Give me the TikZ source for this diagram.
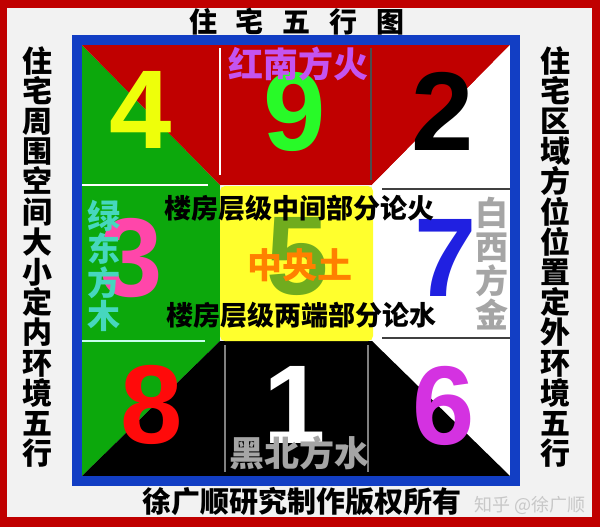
\documentclass[tikz,border=0pt]{standalone}
\usepackage{fontspec}
\setmainfont{Liberation Sans}
\newfontfamily\cjk{Noto Sans CJK SC}

\definecolor{fireRed}{RGB}{192,0,0}
\definecolor{woodGreen}{RGB}{12,168,12}
\definecolor{earthYellow}{RGB}{255,255,45}
\definecolor{frameBlue}{RGB}{18,62,196}
\definecolor{paper}{RGB}{242,242,242}
\definecolor{numYellow}{RGB}{238,255,10}
\definecolor{numLime}{RGB}{40,250,40}
\definecolor{numPink}{RGB}{255,70,170}
\definecolor{numOlive}{RGB}{112,172,30}
\definecolor{numBlue}{RGB}{32,32,225}
\definecolor{numRed}{RGB}{255,10,10}
\definecolor{numMagenta}{RGB}{212,50,225}
\definecolor{hanViolet}{RGB}{196,84,240}
\definecolor{hanTeal}{RGB}{70,215,190}
\definecolor{hanGray}{RGB}{165,165,165}
\definecolor{hanOrange}{RGB}{255,128,0}
\definecolor{markGray}{RGB}{200,200,200}
\definecolor{lineCyan}{RGB}{200,255,235}

\begin{document}
\begin{tikzpicture}[
	x=1pt, y=-1pt,
	num/.style={
		font=\fontsize{112}{112}\selectfont\bfseries,
		inner sep=0pt
	},
	han/.style={
		font=\cjk\bfseries\fontsize{#1}{#1}\selectfont,
		inner sep=0pt
	},
	vhan/.style 2 args={
		align=center,
		font=\cjk\bfseries\fontsize{#1}{#2}\selectfont,
		inner sep=0pt
	},
	thinline/.style={line width=1.5pt}
]
\useasboundingbox (0,0) rectangle (600,530);
\fill[fireRed] (0,0) rectangle (600,527);
\fill[paper] (7,8) rectangle (592,517);
\fill[white] (0,527) rectangle (600,530);

\fill[woodGreen] (82,45) -- (220,185) -- (82,185) -- cycle;
\fill[fireRed] (82,45) -- (220,45) -- (220,185) -- cycle;
\fill[fireRed] (220,45) rectangle (372,185);
\fill[fireRed] (372,45) -- (510,45) -- (372,185) -- cycle;
\fill[white] (510,45) -- (510,185) -- (372,185) -- cycle;
\fill[woodGreen] (82,185) rectangle (220,341);
\fill[white] (372,185) rectangle (510,341);
\fill[woodGreen] (82,341) -- (220,341) -- (82,476) -- cycle;
\fill[black] (220,341) -- (220,476) -- (82,476) -- cycle;
\fill[black] (220,341) rectangle (372,476);
\fill[white] (372,341) -- (510,341) -- (510,476) -- cycle;
\fill[black] (372,341) -- (510,476) -- (372,476) -- cycle;
\fill[earthYellow, rounded corners=5pt] (220,186) rectangle (373,341);

\draw[thinline, white] (82,185) -- (208,185);
\draw[thinline, white] (220,48) -- (220,175);
\draw[thinline, black!70] (371,48) -- (371,180);
\draw[thinline, black!75] (382,189) -- (510,189);
\draw[thinline, lineCyan] (82,341) -- (205,341);
\draw[thinline, black!75] (382,338) -- (510,338);
\draw[thinline, gray] (225,345) -- (225,472);
\draw[thinline, gray] (368,345) -- (368,472);

\draw[frameBlue, line width=10pt] (77,40) rectangle (515,481);

\node[num, numYellow] (n4) at (141,110) {4};
\node[num, numLime] (n9) at (295,112) {9};
\node[num, black] (n2) at (443,111) {2};
\node[num, numPink] (n3) at (132,258) {3};
\node[num, numOlive] (n5) at (298,257) {5};
\node[num, numBlue] (n7) at (446,258) {7};
\node[num, numRed] (n8) at (152,405) {8};
\node[num, white] (n1) at (295,405) {1};
\node[num, numMagenta] (n6) at (444,406) {6};

\node[han=28] (title) at (297,22) {住\hspace{19pt}宅\hspace{19pt}五\hspace{19pt}行\hspace{19pt}图};
\node[vhan={30}{30.2}] (inner) at (38,257) {住\\宅\\周\\围\\空\\间\\大\\小\\定\\内\\环\\境\\五\\行};
\node[vhan={30}{30.2}] (outer) at (555,257) {住\\宅\\区\\域\\方\\位\\位\\置\\定\\外\\环\\境\\五\\行};
\node[han=29] (author) at (302,502) {徐广顺研究制作版权所有};
\node[font=\cjk\fontsize{18}{18}\selectfont, markGray, inner sep=0pt] (mark) at (530,505) {知乎 @徐广顺};

\node[han=35, hanViolet] (south) at (298,64) {红南方火};
\node[vhan={33}{33.5}, hanTeal] (east) at (104,266) {绿\\东\\方\\木};
\node[vhan={33}{34}, hanGray] (west) at (492,264) {白\\西\\方\\金};
\node[han=35, hanGray] (north) at (299,453) {黑北方水};
\node[han=35, hanOrange] (center) at (300,265) {中央土};
\node[han=27] (fire) at (299,208) {楼房层级中间部分论火};
\node[han=27] (water) at (301,315) {楼房层级两端部分论水};

\end{tikzpicture}
\end{document}
